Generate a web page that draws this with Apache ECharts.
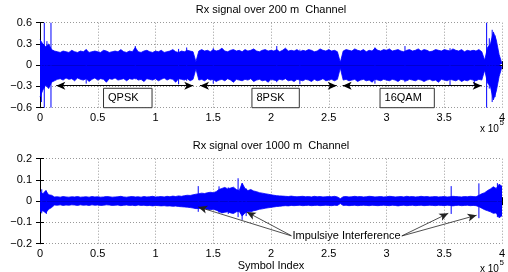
<!DOCTYPE html>
<html><head><meta charset="utf-8">
<script src="https://cdn.jsdelivr.net/npm/echarts@6/dist/echarts.min.js"></script>
<style>html,body{margin:0;padding:0;background:#fff}#c{width:508px;height:272px}</style>
</head><body><div id="c"></div>
<script>
// envelope samples every STEP symbols (index i -> symbol i*STEP)
const STEP = 2500;
const TOP_HI = [
0.36,0.30,0.26,0.30,0.22,0.20,0.19,0.18,0.20,0.19,
0.18,0.21,0.19,0.18,0.20,0.19,0.22,0.18,0.19,0.20,
0.19,0.18,0.21,0.20,0.18,0.19,0.20,0.19,0.22,0.19,
0.18,0.20,0.19,0.25,0.19,0.18,0.20,0.21,0.19,0.18,
0.20,0.19,0.21,0.18,0.19,0.20,0.22,0.19,0.18,0.20,
0.19,0.21,0.20,0.19,0.05,0.20,0.22,0.20,0.21,0.19,
0.22,0.20,0.21,0.24,0.20,0.19,0.21,0.22,0.20,0.21,
0.19,0.22,0.20,0.21,0.23,0.20,0.19,0.21,0.22,0.20,
0.21,0.20,0.22,0.19,0.21,0.24,0.20,0.21,0.20,0.22,
0.19,0.21,0.20,0.22,0.21,0.19,0.20,0.23,0.21,0.20,
0.22,0.20,0.21,0.19,0.04,0.20,0.22,0.21,0.20,0.23,
0.21,0.20,0.22,0.19,0.21,0.20,0.24,0.21,0.20,0.22,
0.21,0.23,0.20,0.21,0.22,0.20,0.19,0.21,0.22,0.20,
0.21,0.23,0.20,0.22,0.21,0.19,0.20,0.22,0.21,0.20,
0.22,0.21,0.20,0.23,0.21,0.20,0.22,0.19,0.21,0.20,
0.21,0.20,0.22,0.19,0.07,0.25,0.30,0.47,0.36,0.15,
0.02];
const TOP_LO = [
-0.45,-0.35,-0.28,-0.33,-0.24,-0.22,-0.20,-0.19,-0.21,-0.18,
-0.20,-0.19,-0.22,-0.18,-0.20,-0.21,-0.19,-0.23,-0.20,-0.18,
-0.21,-0.19,-0.20,-0.24,-0.19,-0.20,-0.18,-0.21,-0.20,-0.19,
-0.22,-0.19,-0.20,-0.18,-0.21,-0.20,-0.23,-0.19,-0.20,-0.21,
-0.19,-0.22,-0.20,-0.18,-0.21,-0.19,-0.20,-0.24,-0.19,-0.20,
-0.21,-0.19,-0.22,-0.20,-0.05,-0.21,-0.20,-0.22,-0.19,-0.21,
-0.20,-0.23,-0.21,-0.20,-0.22,-0.19,-0.21,-0.24,-0.20,-0.21,
-0.22,-0.20,-0.21,-0.19,-0.23,-0.21,-0.20,-0.22,-0.21,-0.24,
-0.20,-0.21,-0.22,-0.20,-0.21,-0.19,-0.22,-0.21,-0.23,-0.20,
-0.21,-0.22,-0.20,-0.21,-0.23,-0.20,-0.22,-0.21,-0.19,-0.22,
-0.21,-0.20,-0.22,-0.20,-0.04,-0.21,-0.20,-0.22,-0.21,-0.20,
-0.23,-0.21,-0.20,-0.22,-0.21,-0.24,-0.20,-0.21,-0.22,-0.20,
-0.21,-0.22,-0.20,-0.21,-0.23,-0.20,-0.21,-0.22,-0.20,-0.21,
-0.22,-0.20,-0.21,-0.23,-0.21,-0.20,-0.22,-0.21,-0.24,-0.20,
-0.21,-0.22,-0.20,-0.21,-0.22,-0.20,-0.23,-0.21,-0.22,-0.20,
-0.21,-0.22,-0.20,-0.21,-0.07,-0.25,-0.30,-0.49,-0.37,-0.16,
-0.02];
// [symbol, low, high]
const TOP_SPIKES = [
[1200,-0.52,0.30],[3700,-0.6,0.6],[6000,-0.30,0.34],[9500,-0.6,0.6],
[40000,-0.26,0.22],[82500,-0.20,0.27],[120000,-0.27,0.23],[127000,-0.22,0.25],
[150000,-0.26,0.24],[205000,-0.24,0.27],[225000,-0.27,0.22],[290000,-0.26,0.25],
[316000,-0.24,0.27],[355000,-0.28,0.24],[376000,-0.29,0.21],[386700,-0.6,0.6],
[389000,-0.33,0.38],[391500,-0.52,0.50],[394000,-0.45,0.42]];
const BOT_HI = [
0.045,0.035,0.050,0.030,0.028,0.020,0.021,0.019,0.022,0.020,
0.019,0.021,0.020,0.022,0.019,0.020,0.021,0.019,0.022,0.020,
0.021,0.019,0.020,0.022,0.021,0.019,0.020,0.021,0.023,0.020,
0.019,0.021,0.022,0.020,0.021,0.019,0.022,0.020,0.021,0.023,
0.020,0.021,0.022,0.020,0.023,0.021,0.024,0.022,0.025,0.023,
0.026,0.028,0.027,0.030,0.033,0.035,0.038,0.036,0.040,0.042,
0.040,0.045,0.055,0.060,0.065,0.058,0.062,0.066,0.055,0.050,
0.085,0.060,0.050,0.055,0.048,0.045,0.040,0.038,0.035,0.033,
0.030,0.028,0.026,0.025,0.024,0.023,0.022,0.024,0.022,0.021,
0.022,0.023,0.021,0.022,0.020,0.023,0.021,0.022,0.020,0.021,
0.022,0.021,0.023,0.020,0.012,0.021,0.022,0.020,0.021,0.023,
0.021,0.022,0.020,0.021,0.023,0.022,0.020,0.021,0.022,0.020,
0.021,0.023,0.022,0.020,0.021,0.022,0.020,0.023,0.021,0.022,
0.020,0.021,0.023,0.021,0.022,0.020,0.021,0.022,0.020,0.021,
0.022,0.020,0.021,0.023,0.022,0.021,0.020,0.022,0.021,0.023,
0.022,0.021,0.028,0.035,0.040,0.050,0.058,0.068,0.060,0.080,
0.070];
const BOT_LO = [
-0.050,-0.045,-0.055,-0.038,-0.030,-0.018,-0.019,-0.017,-0.020,-0.018,
-0.019,-0.017,-0.018,-0.020,-0.017,-0.019,-0.018,-0.020,-0.017,-0.019,
-0.018,-0.020,-0.019,-0.017,-0.018,-0.020,-0.019,-0.018,-0.021,-0.019,
-0.018,-0.020,-0.019,-0.021,-0.018,-0.020,-0.019,-0.021,-0.020,-0.022,
-0.020,-0.021,-0.022,-0.021,-0.023,-0.022,-0.024,-0.023,-0.025,-0.026,
-0.027,-0.028,-0.030,-0.032,-0.035,-0.034,-0.036,-0.035,-0.038,-0.040,
-0.038,-0.042,-0.048,-0.055,-0.052,-0.050,-0.055,-0.058,-0.050,-0.048,
-0.070,-0.055,-0.048,-0.050,-0.045,-0.042,-0.038,-0.036,-0.033,-0.031,
-0.029,-0.027,-0.025,-0.024,-0.022,-0.021,-0.022,-0.020,-0.021,-0.020,
-0.019,-0.021,-0.020,-0.019,-0.021,-0.020,-0.019,-0.021,-0.020,-0.019,
-0.020,-0.021,-0.019,-0.020,-0.011,-0.020,-0.019,-0.021,-0.020,-0.019,
-0.021,-0.020,-0.019,-0.020,-0.021,-0.019,-0.020,-0.021,-0.020,-0.019,
-0.020,-0.021,-0.019,-0.020,-0.022,-0.020,-0.019,-0.021,-0.020,-0.019,
-0.021,-0.020,-0.019,-0.021,-0.020,-0.019,-0.020,-0.021,-0.019,-0.020,
-0.021,-0.019,-0.020,-0.022,-0.020,-0.019,-0.021,-0.020,-0.019,-0.021,
-0.020,-0.021,-0.026,-0.033,-0.040,-0.045,-0.050,-0.057,-0.055,-0.078,
-0.068];
const BOT_SPIKES = [
[1500,-0.057,0.056],[5500,-0.060,0.050],[137000,-0.050,0.071],[155000,-0.055,0.070],
[163000,-0.060,0.065],[171500,-0.075,0.108],[175000,-0.088,0.084],[178500,-0.070,0.060],
[356000,-0.060,0.071],[380000,-0.080,0.084],[396000,-0.075,0.085]];

const TITLES = ['Rx signal over 200 m  Channel', 'Rx signal over 1000 m  Channel'];
const Y_NAME = 'Amplitude';
const X_NAME = 'Symbol Index';
const MOD_LABELS = ['QPSK', '8PSK', '16QAM'];
const MOD_BOX_X = [[55000, 97000], [183500, 224500], [294400, 341400]];
const MOD_BOX_Y = [-0.6, -0.326];
const MOD_ARROWS = [[14100, 132700], [138500, 256900], [262000, 382400]];
const MOD_ARROW_Y = -0.29;
const NOTE = 'Impulsiye Interference';
const NOTE_POS = [265400, -0.164];
const NOTE_LEFT = [218200, -0.164];
const NOTE_RIGHT = [313000, -0.164];
const NOTE_TARGETS_LEFT = [[137000, -0.027], [179000, -0.051]];
const NOTE_TARGETS_RIGHT = [[353500, -0.057], [378000, -0.066]];

const BLUE = '#0000ff';
const FONT = '"Liberation Sans", Arial, Helvetica, sans-serif';
const TXT = '#000';

function pairs(arr) { return arr.map((v, i) => [i * STEP, v]); }
function yFmt(v) { const r = +v.toFixed(2); return r < 0 ? '\u2212' + Math.abs(r) : String(r); }
function xFmt(v) { return String(+(v / 1e5).toFixed(2)); }

const grids = [
  {left: 40, top: 22.7, width: 462, height: 85, containLabel: false, outerBoundsMode: 'none'},
  {left: 40, top: 158.7, width: 462, height: 85, containLabel: false, outerBoundsMode: 'none'}
];
const yRanges = [[-0.6, 0.6, 0.3], [-0.2, 0.2, 0.1]];

const xAxis = [], yAxis = [];
for (let g = 0; g < 2; g++) {
  const line = {show: true, lineStyle: {color: '#000', width: 1}};
  const tick = {show: true, inside: true, length: 4, lineStyle: {color: '#000'}};
  xAxis.push({
    type: 'value', gridIndex: g, min: 0, max: 400000, interval: 50000, position: 'bottom',
    axisLine: line, axisTick: tick,
    axisLabel: {color: TXT, fontSize: 11, fontFamily: FONT, margin: 5, formatter: xFmt},
    splitLine: {show: true, lineStyle: {type: [1, 2], color: '#999', width: 1}},
    name: g === 1 ? X_NAME : '', nameLocation: 'middle', nameGap: 16,
    nameTextStyle: {color: TXT, fontSize: 11, fontFamily: FONT}
  });
  xAxis.push({
    type: 'value', gridIndex: g, min: 0, max: 400000, interval: 50000, position: 'top',
    axisLine: line, axisTick: tick, axisLabel: {show: false}, splitLine: {show: false},
    name: TITLES[g], nameLocation: 'middle', nameGap: 7,
    nameTextStyle: {color: TXT, fontSize: 11, fontFamily: FONT}
  });
  const [mn, mx, iv] = yRanges[g];
  yAxis.push({
    type: 'value', gridIndex: g, min: mn, max: mx, interval: iv, position: 'left',
    axisLine: line, axisTick: tick,
    axisLabel: {color: TXT, fontSize: 11, fontFamily: FONT, margin: 8, formatter: yFmt},
    splitLine: {show: true, lineStyle: {type: [1, 2], color: '#999', width: 1}},
    name: Y_NAME, nameLocation: 'middle', nameGap: 31, nameRotate: 90,
    nameTextStyle: {color: TXT, fontSize: 11, fontFamily: FONT}
  });
  yAxis.push({
    type: 'value', gridIndex: g, min: mn, max: mx, interval: iv, position: 'right',
    axisLine: line, axisTick: tick, axisLabel: {show: false}, splitLine: {show: false}
  });
}

function band(g, data, extra) {
  return Object.assign({
    type: 'line', xAxisIndex: g * 2, yAxisIndex: g * 2, data: pairs(data),
    symbol: 'none', showSymbol: false, silent: true,
    lineStyle: {color: BLUE, width: 0.8}, areaStyle: {color: BLUE, opacity: 1},
    z: 2
  }, extra || {});
}
function spikes(g, data) {
  return {
    type: 'custom', xAxisIndex: g * 2, yAxisIndex: g * 2, data: data, silent: true, z: 3,
    encode: {x: 0, y: [1, 2]},
    renderItem: function (params, api) {
      const a = api.coord([api.value(0), api.value(1)]);
      const b = api.coord([api.value(0), api.value(2)]);
      return {type: 'line', shape: {x1: a[0], y1: a[1], x2: b[0], y2: b[1]}, style: {stroke: BLUE, lineWidth: 1}};
    }
  };
}

const arrowLine = {color: '#000', width: 1, type: 'solid'};
const series = [
  band(0, TOP_HI, {
    markLine: {
      silent: true, symbol: ['arrow', 'arrow'], symbolSize: [6, 9], label: {show: false},
      lineStyle: arrowLine,
      data: MOD_ARROWS.map(a => [{coord: [a[0], MOD_ARROW_Y]}, {coord: [a[1], MOD_ARROW_Y]}])
    },
    markArea: {
      silent: true,
      itemStyle: {color: '#fff', borderColor: '#333', borderWidth: 1},
      label: {show: true, position: 'insideLeft', distance: 5, color: TXT, fontSize: 11, fontFamily: FONT},
      data: MOD_LABELS.map((n, i) => [{name: n, coord: [MOD_BOX_X[i][0], MOD_BOX_Y[1]]}, {coord: [MOD_BOX_X[i][1], MOD_BOX_Y[0]]}])
    }
  }),
  band(0, TOP_LO),
  spikes(0, TOP_SPIKES),
  band(1, BOT_HI, {
    markLine: {
      silent: true, symbol: ['none', 'arrow'], symbolSize: [6, 9], label: {show: false},
      lineStyle: {color: '#222', width: 0.8, type: 'solid'},
      data: NOTE_TARGETS_LEFT.map(t => [{coord: NOTE_LEFT}, {coord: t}])
        .concat(NOTE_TARGETS_RIGHT.map(t => [{coord: NOTE_RIGHT}, {coord: t}]))
    },
    markPoint: {
      silent: true, symbol: 'rect', symbolSize: 1, itemStyle: {color: 'rgba(0,0,0,0)'},
      label: {show: true, position: 'inside', formatter: NOTE, color: TXT, fontSize: 11, fontFamily: FONT,
        backgroundColor: '#fff', padding: [0, 1]},
      data: [{coord: NOTE_POS}]
    }
  }),
  band(1, BOT_LO),
  spikes(1, BOT_SPIKES)
];

const expText = {color: TXT, fontSize: 10, fontFamily: FONT, fontWeight: 'normal'};
const expSup = {color: TXT, fontSize: 8, fontFamily: FONT, fontWeight: 'normal'};
const option = {
  animation: false,
  backgroundColor: '#fff',
  title: [
    {text: 'x 10', left: 480, top: 124, padding: 0, textStyle: expText},
    {text: '5', left: 499.5, top: 119, padding: 0, textStyle: expSup},
    {text: 'x 10', left: 480, top: 264, padding: 0, textStyle: expText},
    {text: '5', left: 499.5, top: 259, padding: 0, textStyle: expSup}
  ],
  grid: grids,
  xAxis: xAxis,
  yAxis: yAxis,
  series: series
};
const chart = echarts.init(document.getElementById('c'), null, {renderer: 'canvas'});
chart.setOption(option);
</script>
</body></html>
